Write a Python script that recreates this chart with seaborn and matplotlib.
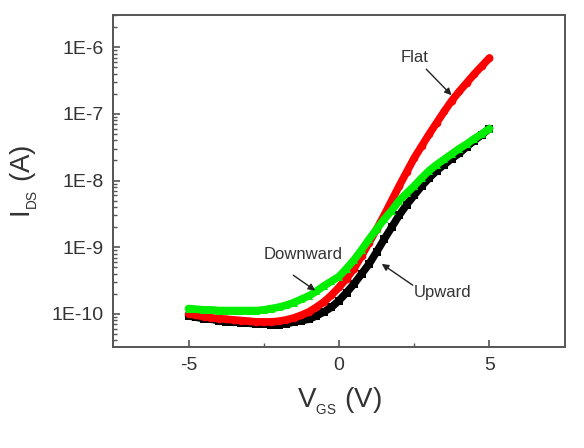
import numpy as np
import pandas as pd
import matplotlib
matplotlib.use("Agg")
import matplotlib.pyplot as plt
import seaborn as sns
from matplotlib.ticker import NullFormatter, FixedLocator

sns.set_style("ticks")
plt.rcParams['font.family'] = ['Liberation Sans', 'DejaVu Sans']
plt.rcParams['mathtext.fontset'] = 'custom'
plt.rcParams['mathtext.rm'] = 'Liberation Sans'
plt.rcParams['mathtext.it'] = 'Liberation Sans'

vgs = [-5.0, -4.75, -4.5, -4.25, -4.0, -3.75, -3.5, -3.25, -3.0, -2.75, -2.5, -2.25, -2.0,
       -1.75, -1.5, -1.25, -1.0, -0.75, -0.5, -0.25, 0.0, 0.25, 0.5, 0.75, 1.0, 1.25, 1.5,
       1.75, 2.0, 2.25, 2.5, 2.75, 3.0, 3.25, 3.5, 3.75, 4.0, 4.25, 4.5, 4.75, 5.0]

log_upward = [-10.03, -10.05, -10.07, -10.08, -10.10, -10.12, -10.12, -10.13, -10.14, -10.15,
              -10.15, -10.16, -10.16, -10.15, -10.12, -10.10, -10.08, -10.03, -9.97, -9.90,
              -9.80, -9.68, -9.55, -9.40, -9.25, -9.07, -8.88, -8.70, -8.52, -8.36, -8.22,
              -8.08, -7.96, -7.85, -7.76, -7.67, -7.59, -7.49, -7.40, -7.31, -7.22]

log_flat = [-10.00, -10.02, -10.04, -10.06, -10.07, -10.08, -10.09, -10.10, -10.11, -10.12,
            -10.12, -10.12, -10.11, -10.09, -10.06, -10.02, -9.97, -9.90, -9.82, -9.72,
            -9.60, -9.47, -9.32, -9.13, -8.93, -8.73, -8.52, -8.30, -8.08, -7.87, -7.66,
            -7.48, -7.30, -7.13, -6.96, -6.80, -6.66, -6.53, -6.40, -6.28, -6.16]

log_downward = [-9.92, -9.93, -9.94, -9.94, -9.95, -9.95, -9.95, -9.95, -9.95, -9.95,
                -9.94, -9.92, -9.90, -9.87, -9.83, -9.78, -9.73, -9.66, -9.58, -9.51,
                -9.44, -9.32, -9.19, -9.04, -8.88, -8.73, -8.58, -8.45, -8.30, -8.19, -8.08,
                -7.96, -7.85, -7.76, -7.68, -7.60, -7.52, -7.45, -7.37, -7.30, -7.22]

series = [("Upward", log_upward, "black", "s"),
          ("Flat", log_flat, "#ff0000", "o"),
          ("Downward", log_downward, "#00ee00", "^")]

fig, ax = plt.subplots(figsize=(5.84, 4.48), dpi=100)
fig.subplots_adjust(left=0.194, right=0.967, top=0.966, bottom=0.225)

for name, vals, col, mk in series:
    df = pd.DataFrame({"VGS": vgs, "IDS": np.power(10.0, vals)})
    sns.lineplot(data=df, x="VGS", y="IDS", ax=ax, color=col, marker=mk,
                 markersize=5.5, markeredgewidth=0, linewidth=5.5, zorder=3)

ax.set_yscale("log")
ax.set_xlim(-7.5, 7.5)
ax.set_ylim(10**-10.5, 10**-5.52)

ytick_vals = [1e-10, 1e-9, 1e-8, 1e-7, 1e-6]
ytick_labels = ["1E-10", "1E-9", "1E-8", "1E-7", "1E-6"]
ax.set_yticks(ytick_vals)
ax.set_yticklabels(ytick_labels)
minor_y = [m * 10.0**e for e in range(-11, -5) for m in range(2, 10)]
ax.yaxis.set_minor_locator(FixedLocator(minor_y))
ax.yaxis.set_minor_formatter(NullFormatter())
ax.set_xticks([-5, 0, 5])
ax.set_xticklabels(["-5", "0", "5"])
ax.xaxis.set_minor_locator(FixedLocator([-2.5, 2.5]))
ax.set_ylim(10**-10.5, 10**-5.52)

spine_col = "#555555"
for s in ax.spines.values():
    s.set_color(spine_col)
    s.set_linewidth(1.4)
    s.set_visible(True)

ax.tick_params(axis="both", which="major", direction="in", length=5, width=1.2,
               color=spine_col, labelsize=14, labelcolor="#333333", pad=7)
ax.tick_params(axis="both", which="minor", direction="in", length=3, width=1.0,
               color=spine_col)
ax.tick_params(top=False, right=False, which="both")

ax.set_xlabel(r"V$_{_{\mathregular{GS}}}$ (V)", fontsize=20, color="#333333", labelpad=8)
ax.set_ylabel(r"I$_{_{\mathregular{DS}}}$ (A)", fontsize=20, color="#333333", labelpad=8)

arrowprops = dict(arrowstyle="-|>", color="#222222", lw=1.0, mutation_scale=10,
                  shrinkA=0, shrinkB=0)
ax.annotate("", xy=(3.74, 10**-6.72), xytext=(2.9, 10**-6.33), arrowprops=arrowprops)
ax.text(2.52, 10**-6.15, "Flat", fontsize=12, color="#333333", ha="center", va="center")
ax.annotate("", xy=(-0.79, 10**-9.65), xytext=(-1.52, 10**-9.42), arrowprops=arrowprops)
ax.text(-1.19, 10**-9.11, "Downward", fontsize=12, color="#333333", ha="center", va="center")
ax.annotate("", xy=(1.42, 10**-9.25), xytext=(2.45, 10**-9.57), arrowprops=arrowprops)
ax.text(3.44, 10**-9.68, "Upward", fontsize=12, color="#333333", ha="center", va="center")

fig.savefig("out.png", dpi=100)
